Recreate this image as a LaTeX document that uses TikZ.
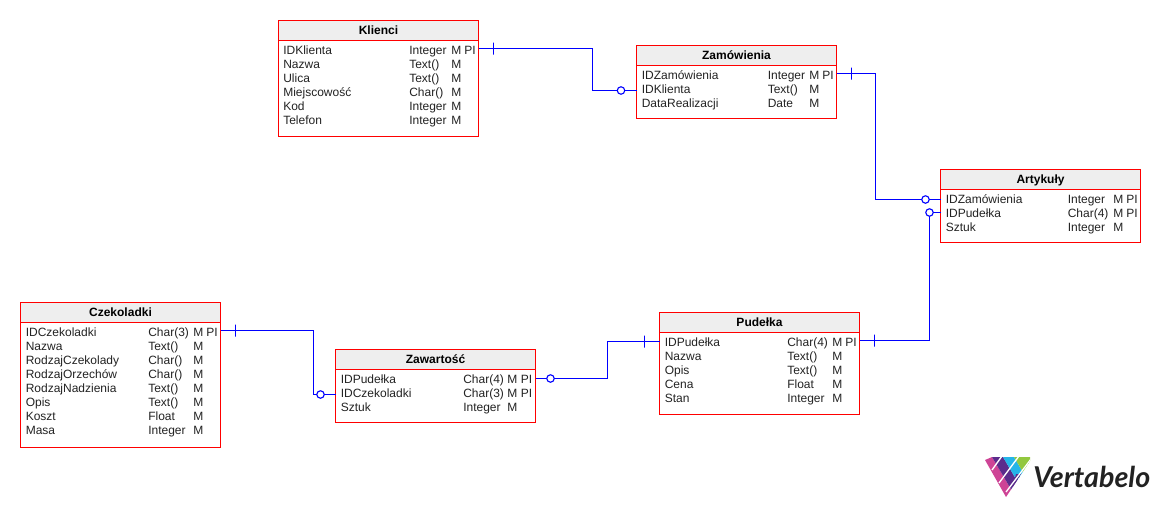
\documentclass[tikz,border=0pt]{standalone}
\usepackage{fontspec}
\setmainfont{Liberation Sans}
\newfontfamily\logofont{Lato}
\usetikzlibrary{calc}
\definecolor{erRed}{RGB}{255,0,0}
\definecolor{erBlue}{RGB}{0,0,255}
\definecolor{erHead}{RGB}{238,238,238}
\definecolor{erText}{RGB}{34,34,34}
\definecolor{vbPink}{RGB}{206,68,150}
\definecolor{vbPurple}{RGB}{91,44,140}
\definecolor{vbCyan}{RGB}{37,181,232}
\definecolor{vbGreen}{RGB}{146,200,62}
\tikzset{
  x=0.75pt, y=-0.75pt,
  erBox/.style={draw=erRed, line width=1pt, anchor=north west, inner sep=0pt,
                minimum width=150pt, outer sep=0pt},
  erHeadbar/.style={draw=erRed, line width=1pt, fill=erHead},
  erTitle/.style={font=\fontsize{9}{10}\selectfont\bfseries, text=black, inner sep=0pt, anchor=base},
  erCell/.style={font=\fontsize{9}{10}\selectfont, text=erText, anchor=base west, inner sep=0pt},
  erLink/.style={draw=erBlue, line width=0.95pt},
  erOpt/.style={circle, draw=erBlue, line width=0.85pt, fill=white, inner sep=0pt,
                minimum size=5.6pt},
  erBar/.style={draw=erBlue, line width=0.85pt, inner sep=0pt, minimum width=0pt,
                minimum height=9pt},
  vbGap/.style={draw=white, line width=1pt}
}
\begin{document}
\begin{tikzpicture}
  \useasboundingbox (0,0) rectangle (1160,507);

  % Klienci
  \node[erBox, minimum height=87pt] (klienci) at (278.5,20.5) {};
  \filldraw[erHeadbar] (klienci.north west) rectangle ($(klienci.north east)+(0,20)$);
  \node[erTitle] (klTitle) at ($(klienci.north)+(0,14)$) {Klienci};
  \foreach \n/\t/\m/\p [count=\i] in {IDKlienta/Integer/M/PI, Nazwa/Text()/M/, Ulica/Text()/M/,
      Miejscowość/Char()/M/, Kod/Integer/M/, Telefon/Integer/M/} {
    \node[erCell] (kl\i) at (283,40.5+14*\i) {\n};
    \node[erCell] at (409,40.5+14*\i) {\t};
    \node[erCell] at (451,40.5+14*\i) {\m};
    \node[erCell] at (464,40.5+14*\i) {\p};
  }

  % Zamowienia
  \node[erBox, minimum height=54.75pt] (zamowienia) at (636.5,45.5) {};
  \filldraw[erHeadbar] (zamowienia.north west) rectangle ($(zamowienia.north east)+(0,20)$);
  \node[erTitle] (zaTitle) at ($(zamowienia.north)+(0,14)$) {Zamówienia};
  \foreach \n/\t/\m/\p [count=\i] in {IDZamówienia/Integer/M/PI, IDKlienta/Text()/M/,
      DataRealizacji/Date/M/} {
    \node[erCell] (za\i) at (641.5,65.5+14*\i) {\n};
    \node[erCell] at (767.5,65.5+14*\i) {\t};
    \node[erCell] at (809,65.5+14*\i) {\m};
    \node[erCell] at (822,65.5+14*\i) {\p};
  }

  % Artykuly
  \node[erBox, minimum height=54.75pt] (artykuly) at (940.5,169.5) {};
  \filldraw[erHeadbar] (artykuly.north west) rectangle ($(artykuly.north east)+(0,20)$);
  \node[erTitle] (arTitle) at ($(artykuly.north)+(0,14)$) {Artykuły};
  \foreach \n/\t/\m/\p [count=\i] in {IDZamówienia/Integer/M/PI, IDPudełka/Char(4)/M/PI,
      Sztuk/Integer/M/} {
    \node[erCell] (ar\i) at (945.5,189.5+14*\i) {\n};
    \node[erCell] at (1067.5,189.5+14*\i) {\t};
    \node[erCell] at (1113,189.5+14*\i) {\m};
    \node[erCell] at (1126,189.5+14*\i) {\p};
  }

  % Pudelka
  \node[erBox, minimum height=76.5pt] (pudelka) at (659.5,312.5) {};
  \filldraw[erHeadbar] (pudelka.north west) rectangle ($(pudelka.north east)+(0,20)$);
  \node[erTitle] (puTitle) at ($(pudelka.north)+(0,14)$) {Pudełka};
  \foreach \n/\t/\m/\p [count=\i] in {IDPudełka/Char(4)/M/PI, Nazwa/Text()/M/, Opis/Text()/M/,
      Cena/Float/M/, Stan/Integer/M/} {
    \node[erCell] (pu\i) at (664.5,332.5+14*\i) {\n};
    \node[erCell] at (787,332.5+14*\i) {\t};
    \node[erCell] at (832,332.5+14*\i) {\m};
    \node[erCell] at (845,332.5+14*\i) {\p};
  }

  % Zawartosc
  \node[erBox, minimum height=54.75pt] (zawartosc) at (335.5,349.5) {};
  \filldraw[erHeadbar] (zawartosc.north west) rectangle ($(zawartosc.north east)+(0,20)$);
  \node[erTitle] (zwTitle) at ($(zawartosc.north)+(0,14)$) {Zawartość};
  \foreach \n/\t/\m/\p [count=\i] in {IDPudełka/Char(4)/M/PI, IDCzekoladki/Char(3)/M/PI,
      Sztuk/Integer/M/} {
    \node[erCell] (zw\i) at (340.5,369.5+14*\i) {\n};
    \node[erCell] at (463,369.5+14*\i) {\t};
    \node[erCell] at (507,369.5+14*\i) {\m};
    \node[erCell] at (520.5,369.5+14*\i) {\p};
  }

  % Czekoladki
  \node[erBox, minimum height=108.75pt] (czekoladki) at (20.5,302.5) {};
  \filldraw[erHeadbar] (czekoladki.north west) rectangle ($(czekoladki.north east)+(0,20)$);
  \node[erTitle] (czTitle) at ($(czekoladki.north)+(0,14)$) {Czekoladki};
  \foreach \n/\t/\m/\p [count=\i] in {IDCzekoladki/Char(3)/M/PI, Nazwa/Text()/M/,
      RodzajCzekolady/Char()/M/, RodzajOrzechów/Char()/M/, RodzajNadzienia/Text()/M/,
      Opis/Text()/M/, Koszt/Float/M/, Masa/Integer/M/} {
    \node[erCell] (cz\i) at (25.5,322.5+14*\i) {\n};
    \node[erCell] at (148,322.5+14*\i) {\t};
    \node[erCell] at (193,322.5+14*\i) {\m};
    \node[erCell] at (206,322.5+14*\i) {\p};
  }

  % relacje
  \coordinate (klOut) at (478.5,48.5);
  \coordinate (klBend) at (592.5,90.5);
  \coordinate (zaIn) at (636.5,90.5);
  \coordinate (zaOut) at (836.5,73.5);
  \coordinate (zaBend) at (875.5,199.5);
  \coordinate (arIn) at (940.5,199.5);
  \coordinate (arPu) at (940.5,212.5);
  \coordinate (arBend) at (929.5,340.5);
  \coordinate (puOut) at (859.5,340.5);
  \coordinate (puIn) at (659.5,341.5);
  \coordinate (puBend) at (607.5,378.5);
  \coordinate (zwOut) at (535.5,378.5);
  \coordinate (zwIn) at (335.5,394.5);
  \coordinate (czOut) at (220.5,330.5);
  \coordinate (czBend) at (313.5,394.5);

  \draw[erLink] (klOut) -| (klBend) -- (zaIn);
  \node[erBar] (klBar) at ($(klOut)+(15,0)$) {};
  \node[erOpt] (zaOpt) at ($(zaIn)+(-15.5,0)$) {};

  \draw[erLink] (zaOut) -| (zaBend) -- (arIn);
  \node[erBar] (zaBar) at ($(zaOut)+(15,0)$) {};
  \node[erOpt] (arOpt) at ($(arIn)+(-15,0)$) {};

  \draw[erLink] (arPu) -| (arBend) -- (puOut);
  \node[erOpt] (puOpt) at ($(arPu)+(-11,0)$) {};
  \node[erBar] (puBar) at ($(puOut)+(15,0)$) {};

  \draw[erLink] (puIn) -| (puBend) -- (zwOut);
  \node[erBar] (pzBar) at ($(puIn)+(-15,0)$) {};
  \node[erOpt] (zwOpt) at ($(zwOut)+(15,0)$) {};

  \draw[erLink] (czOut) -| (czBend) -- (zwIn);
  \node[erBar] (czBar) at ($(czOut)+(15,0)$) {};
  \node[erOpt] (zcOpt) at ($(zwIn)+(-15,0)$) {};

  % logo
  \begin{scope}
    \clip (985,460) -- (992,457) -- (1030,457) -- (1030,461) -- (1006,497) -- cycle;
    \fill[vbPink] (975,457) -- (992,457) -- (1032,525) -- (1000,525) -- cycle;
    \fill[vbPurple] (992,457) -- (1003,457) -- (1043,525) -- (1032,525) -- cycle;
    \fill[vbCyan] (1003,457) -- (1014,457) -- (1054,525) -- (1043,525) -- cycle;
    \fill[vbGreen] (1014,457) -- (1040,457) -- (1080,525) -- (1054,525) -- cycle;
    \fill[vbPurple] (1012,490) -- (1016,474) -- (1021,474) -- cycle;
    \draw[vbGap] (992,470) -- (1002,456);
    \draw[vbGap] (999,483) -- (1019,456);
    \draw[vbGap] (1006,492) -- (1031,459);
  \end{scope}
  \node[font=\logofont\fontsize{21.5}{24}\selectfont\bfseries\itshape, text=erText, anchor=base west, inner sep=0pt]
    (logoText) at (1033,487) {Vertabelo};
\end{tikzpicture}
\end{document}
